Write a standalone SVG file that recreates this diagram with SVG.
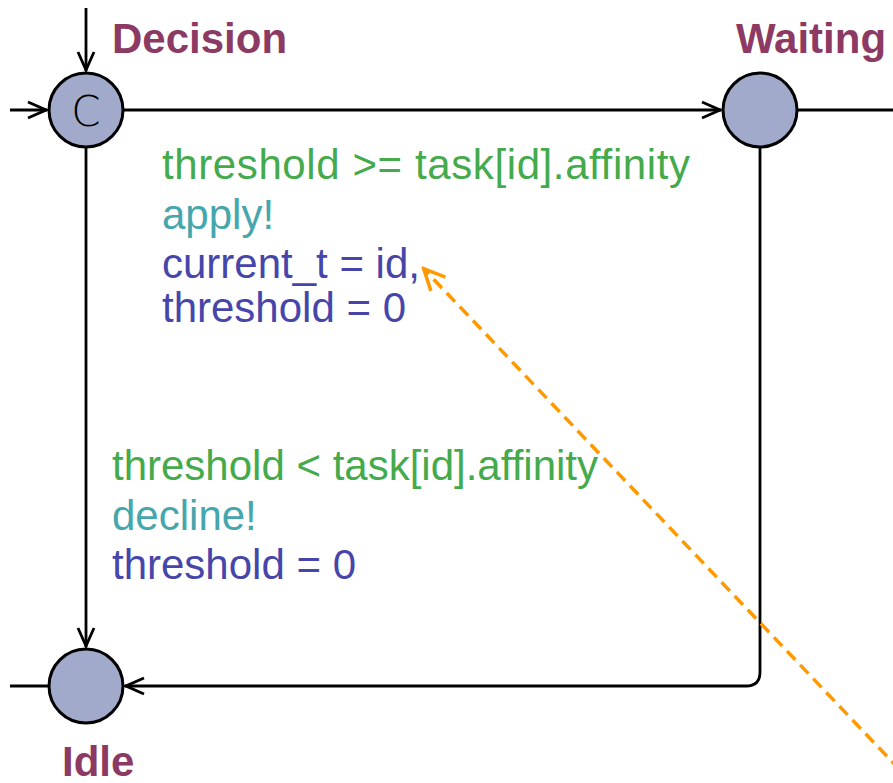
<svg xmlns="http://www.w3.org/2000/svg" width="893" height="783" viewBox="0 0 893 783">
<style>
.edge{fill:none;stroke:#000;stroke-width:2.8}
.loc{fill:#a2aacb;stroke:#000;stroke-width:3}
.name{font-family:"Liberation Sans",Arial,sans-serif;font-weight:bold;font-size:42px;fill:#8c3a63}
.lbl{font-family:"Liberation Sans",Arial,sans-serif;font-size:42px}
.guard{fill:#44aa4c}
.sync{fill:#46a6ad}
.asg{fill:#4646aa}
</style>
<defs>
<marker id="arr" viewBox="0 0 22 22" refX="21" refY="11" markerWidth="22" markerHeight="22" markerUnits="userSpaceOnUse" orient="auto">
<path d="M2,3 L20,11 L2,19" fill="none" stroke="#000" stroke-width="2.8"/>
</marker>
<marker id="oarr" viewBox="0 0 26 26" refX="24" refY="13" markerWidth="26" markerHeight="26" markerUnits="userSpaceOnUse" orient="auto">
<path d="M2,3 L23,13 L2,23" fill="none" stroke="#ff9900" stroke-width="3.5"/>
</marker>
</defs>
<rect width="893" height="783" fill="#fff"/>
<g id="edges">
<path class="edge" d="M86,8 V71" marker-end="url(#arr)"/>
<path class="edge" d="M10,110 H47" marker-end="url(#arr)"/>
<path class="edge" d="M124,110 H721" marker-end="url(#arr)"/>
<path class="edge" d="M798,110 H893"/>
<path class="edge" d="M760,148 V672 Q760,686 746,686 H125" marker-end="url(#arr)"/>
<path class="edge" d="M86,148 V647" marker-end="url(#arr)"/>
<path class="edge" d="M10,686 H48"/>
</g>
<g id="decision">
<circle class="loc" cx="86" cy="110" r="37"/>
<text x="86" y="126" text-anchor="middle" font-family="DejaVu Sans,sans-serif" font-weight="200" font-size="42">C</text>
<text class="name" x="112" y="53">Decision</text>
</g>
<g id="waiting">
<circle class="loc" cx="760" cy="110" r="37"/>
<text class="name" x="736" y="53">Waiting</text>
</g>
<g id="idle">
<circle class="loc" cx="86" cy="686" r="37"/>
<text class="name" x="62" y="776">Idle</text>
</g>
<g id="labels" class="lbl">
<text class="guard" x="162" y="179" textLength="528" lengthAdjust="spacing">threshold &gt;= task[id].affinity</text>
<text class="sync" x="162" y="229">apply!</text>
<text class="asg" x="162" y="278">current_t = id,</text>
<text class="asg" x="162" y="322">threshold = 0</text>
<text class="guard" x="112" y="480">threshold &lt; task[id].affinity</text>
<text class="sync" x="112" y="530">decline!</text>
<text class="asg" x="112" y="579">threshold = 0</text>
</g>
<g id="note-link">
<path d="M900,770 L423,268" fill="none" stroke="#ff9900" stroke-width="3.5" stroke-dasharray="12,7" marker-end="url(#oarr)"/>
</g>
</svg>
